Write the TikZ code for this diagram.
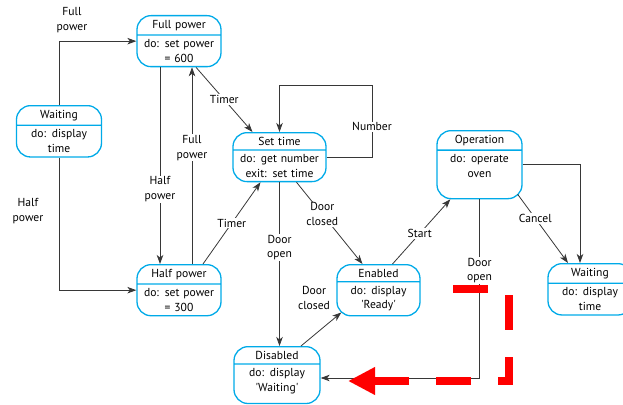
\documentclass[tikz,border=0pt]{standalone}
\usepackage{fontspec}
\setmainfont{PT Sans}
\usetikzlibrary{shapes.multipart,arrows.meta}
\definecolor{statecyan}{RGB}{0,170,232}
\definecolor{linegrey}{RGB}{55,55,55}
\definecolor{markred}{RGB}{255,0,0}
\tikzset{
  state/.style={rectangle split, rectangle split parts=2, draw=statecyan, line width=1.3pt,
    rounded corners=14pt, align=center, inner xsep=2pt, inner ysep=3.8pt, anchor=north,
    font=\fontsize{11.6}{14.5}\selectfont},
  trans/.style={draw=linegrey, line width=0.8pt, -{Stealth[length=9pt,width=6.5pt,inset=2.5pt]}},
  lab/.style={fill=white, inner sep=1pt, align=center, font=\fontsize{11.6}{14.5}\selectfont},
  redmark/.style={draw=markred, line width=8pt, dash pattern=on 35pt off 27pt,
    -{Triangle[length=27pt,width=26pt]}}
}

\begin{document}
\begin{tikzpicture}[x=1pt, y=-1pt]
			%%%%% START %%%%%
			\useasboundingbox (0,0) rectangle (623,404);
			
			\node[state, text width=81pt] (waitL) at (59,105) {Waiting \nodepart{two} do: display\\time};
			\node[state, text width=80pt] (fullp) at (179,15) {Full power \nodepart{two} do: set power\\= 600};
			\node[state, text width=80pt] (halfp) at (179,264) {Half power \nodepart{two} do: set power\\= 300};
			\node[state, text width=89pt] (settime) at (279.5,132) {Set time \nodepart{two} do: get number\\exit: set time};
			\node[state, text width=82pt] (disabled) at (277,346) {Disabled \nodepart{two} do: display\\\textquotesingle Waiting\textquotesingle\rule[-8pt]{0pt}{8pt}};
			\node[state, text width=79pt] (enabled) at (378.5,264) {Enabled \nodepart{two} do: display\\\textquotesingle Ready\textquotesingle};
			\node[state, text width=81pt] (oper) at (479.5,130) {Operation \nodepart{two} do: operate\\oven\rule[-17pt]{0pt}{17pt}};
			\node[state, text width=80pt] (waitR) at (590,263) {Waiting \nodepart{two} do: display\\time};
			
			\draw[trans] (waitL.north) |- (fullp.west);
			\node[lab, fill=none] (lFull1) at (72,20) {Full\\power};
			\draw[trans] (waitL.south) |- (halfp.west);
			\node[lab, fill=none] (lHalf1) at (28,211) {Half\\power};
			
			\draw[trans] ([xshift=-19pt]fullp.south) -- node[lab, pos=0.62] (lHalf2) {Half\\power} ([xshift=-19pt]halfp.north);
			\draw[trans] ([xshift=13pt]halfp.north) -- node[lab, pos=0.59] (lFull2) {Full\\power} ([xshift=13pt]fullp.south);
			\draw[trans] ([xshift=17pt]fullp.south) -- node[lab] (lTimer1) {Timer} ([xshift=-27pt]settime.north);
			\draw[trans] ([xshift=24pt]halfp.north) -- node[lab] (lTimer2) {Timer} ([xshift=-19pt]settime.south);
			
			\draw[trans] (settime.east) -| node[lab, pos=0.71] (lNumber) {Number} ([xshift=92.5pt,yshift=47pt]settime.north) -| (settime.north);
			
			\draw[trans] (settime.south) -- node[lab, pos=0.4] (lOpen1) {Door\\open} (settime.south |- disabled.north);
			\draw[trans] ([xshift=17pt]settime.south) -- node[lab, pos=0.39] (lClosed1) {Door\\closed} ([xshift=-16pt]enabled.north);
			\draw[trans] ([xshift=24pt]disabled.north) -- ([xshift=5pt,yshift=4pt]enabled.south west);
			\node[lab, fill=none] (lClosed2) at (314,298) {Door\\closed};
			
			\draw[trans] ([xshift=14pt]enabled.north) -- node[lab, pos=0.47] (lStart) {Start} ([xshift=14pt]oper.south west);
			\draw[trans] ([xshift=-5pt,yshift=5pt]oper.south east) -- node[lab, pos=0.35] (lCancel) {Cancel} ([xshift=-22pt]waitR.north);
			\draw[trans] (oper.east) -| ([xshift=-10pt]waitR.north);
			\draw[trans] (oper.south) |- node[lab, pos=0.2] (lOpen2) {Door\\open} ([yshift=-32pt]disabled.north east);
			
			% red overlay
			\coordinate (r0) at (453,289);
			\coordinate (r1) at (509,289);
			\coordinate (r2) at (509,381);
			\coordinate (r3) at (348,381);
			\draw[redmark] (r0) -- (r1) -- (r2) -- (r3);
			
			%%%%% END %%%%%
		\end{tikzpicture}
\end{document}
